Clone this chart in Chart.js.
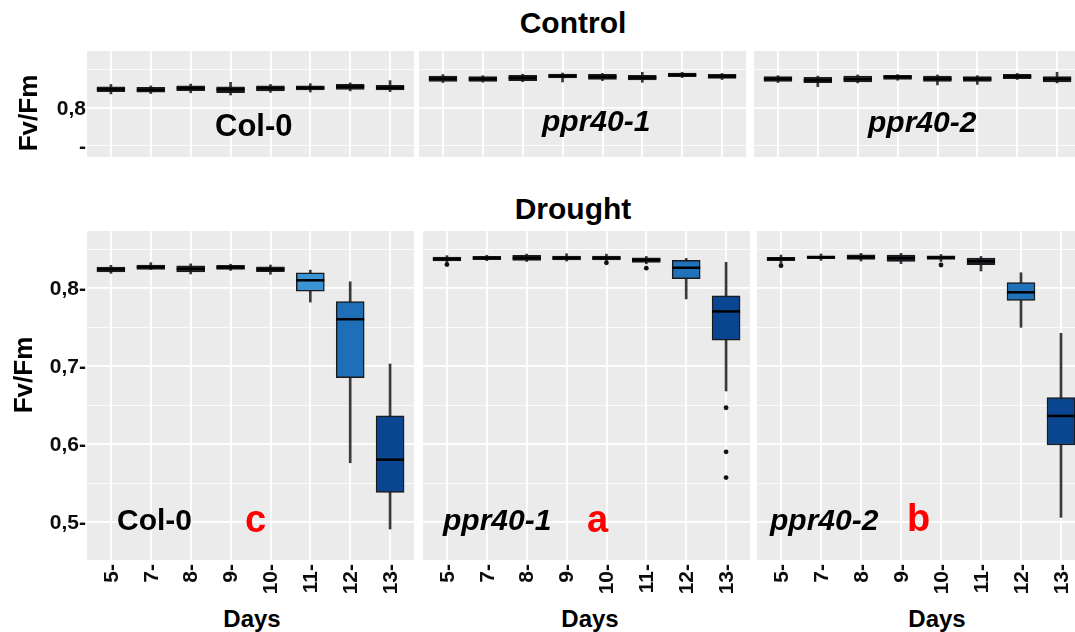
<!DOCTYPE html>
<html>
<head>
<meta charset="utf-8">
<script src="https://cdn.jsdelivr.net/npm/chart.js@4.4.1/dist/chart.umd.min.js"></script>
<style>
body { margin:0; width:1075px; height:632px; overflow:hidden; background:#fff; position:relative;
       font-family:'Liberation Sans', Arial, sans-serif; }
canvas { position:absolute; }
.t { position:absolute; line-height:0; white-space:nowrap; font-weight:bold; color:#000; }
.rot { position:absolute; line-height:1; white-space:nowrap; font-weight:bold; color:#000;
       transform:translate(-50%,-50%) rotate(-90deg); }
</style>
</head>
<body>
<canvas id="cCol0"></canvas>
<canvas id="cPpr1"></canvas>
<canvas id="cPpr2"></canvas>
<canvas id="dCol0"></canvas>
<canvas id="dPpr1"></canvas>
<canvas id="dPpr2"></canvas>
<script>
// Fv/Fm boxplots, days of treatment
const days = ['5', '7', '8', '9', '10', '11', '12', '13'];

// per day: [lower whisker, q1, median, q3, upper whisker]
const controlCol0 = [
    [0.8185, 0.8215, 0.8247, 0.8280, 0.8310],
    [0.8190, 0.8207, 0.8237, 0.8272, 0.8290],
    [0.8200, 0.8228, 0.8260, 0.8293, 0.8315],
    [0.8171, 0.8201, 0.8245, 0.8280, 0.8338],
    [0.8205, 0.8224, 0.8260, 0.8293, 0.8310],
    [0.8210, 0.8237, 0.8265, 0.8293, 0.8320],
    [0.8225, 0.8246, 0.8280, 0.8311, 0.8330],
    [0.8215, 0.8237, 0.8267, 0.8298, 0.8360]
];
const controlPpr1 = [
    [0.8335, 0.8351, 0.8386, 0.8421, 0.8440],
    [0.8340, 0.8351, 0.8382, 0.8412, 0.8425],
    [0.8345, 0.8360, 0.8395, 0.8430, 0.8445],
    [0.8342, 0.8395, 0.8420, 0.8447, 0.8460],
    [0.8360, 0.8377, 0.8410, 0.8443, 0.8455],
    [0.8338, 0.8368, 0.8400, 0.8430, 0.8470],
    [0.8400, 0.8412, 0.8435, 0.8460, 0.8470],
    [0.8375, 0.8390, 0.8415, 0.8443, 0.8455]
];
const controlPpr2 = [
    [0.8335, 0.8351, 0.8382, 0.8412, 0.8425],
    [0.8280, 0.8333, 0.8365, 0.8404, 0.8420],
    [0.8330, 0.8342, 0.8380, 0.8421, 0.8435],
    [0.8365, 0.8377, 0.8408, 0.8430, 0.8440],
    [0.8303, 0.8351, 0.8385, 0.8421, 0.8435],
    [0.8310, 0.8351, 0.8382, 0.8412, 0.8425],
    [0.8375, 0.8386, 0.8415, 0.8443, 0.8455],
    [0.8330, 0.8342, 0.8380, 0.8412, 0.8470]
];
const droughtCol0 = [
    [0.8188, 0.8205, 0.8240, 0.8269, 0.8291],
    [0.8235, 0.8240, 0.8268, 0.8295, 0.8325],
    [0.8180, 0.8205, 0.8246, 0.8286, 0.8310],
    [0.8225, 0.8240, 0.8265, 0.8290, 0.8305],
    [0.8176, 0.8209, 0.8240, 0.8273, 0.8295],
    [0.7820, 0.7960, 0.8099, 0.8196, 0.8230],
    [0.5760, 0.6850, 0.7600, 0.7825, 0.8080],
    [0.4910, 0.5380, 0.5800, 0.6360, 0.7026]
];
const droughtPpr1 = [
    [0.8320, 0.8346, 0.8372, 0.8397, 0.8415],
    [0.8350, 0.8363, 0.8385, 0.8405, 0.8420],
    [0.8340, 0.8354, 0.8385, 0.8418, 0.8435],
    [0.8345, 0.8360, 0.8385, 0.8410, 0.8440],
    [0.8345, 0.8360, 0.8385, 0.8410, 0.8435],
    [0.8310, 0.8328, 0.8360, 0.8388, 0.8405],
    [0.7860, 0.8120, 0.8260, 0.8355, 0.8380],
    [0.6680, 0.7330, 0.7700, 0.7900, 0.8330]
];
const droughtPpr2 = [
    [0.8315, 0.8350, 0.8375, 0.8393, 0.8423],
    [0.8355, 0.8376, 0.8395, 0.8413, 0.8436],
    [0.8346, 0.8368, 0.8395, 0.8427, 0.8445],
    [0.8312, 0.8342, 0.8385, 0.8423, 0.8445],
    [0.8340, 0.8368, 0.8390, 0.8413, 0.8430],
    [0.8218, 0.8299, 0.8345, 0.8385, 0.8405],
    [0.7496, 0.7840, 0.7945, 0.8070, 0.8196],
    [0.5060, 0.5987, 0.6360, 0.6594, 0.7420]
];

// outliers: [day index, value]
const droughtPpr1Out = [[0, 0.8300], [4, 0.8323], [5, 0.8255], [7, 0.6465], [7, 0.5900], [7, 0.5570]];
const droughtPpr2Out = [[0, 0.8286], [4, 0.8295]];

// y ticks
const droughtTicks = [0.50, 0.55, 0.60, 0.65, 0.70, 0.75, 0.80, 0.85];
const droughtTickLabels = ['0,5-', '', '0,6-', '', '0,7-', '', '0,8-', ''];
const controlTicks = [0.75, 0.80, 0.85];
const controlTickLabels = ['-', '0,8', ''];

// box fills by day
const dark = '#1b1f26';
const fillsControl = [dark, dark, dark, dark, dark, dark, dark, dark];
const fillsCol0 = [dark, dark, dark, dark, dark, '#3d94d5', '#1f6fb8', '#0a4592'];
const fillsPpr = [dark, dark, dark, dark, dark, dark, '#2072ba', '#0a4592'];

Chart.defaults.animation = false;
Chart.defaults.responsive = false;
Chart.defaults.events = [];
Chart.defaults.plugins.legend.display = false;
Chart.defaults.plugins.tooltip.enabled = false;
Chart.defaults.font.family = "'Liberation Sans', Arial, sans-serif";

const panelBg = {
    id: 'panelBg',
    beforeDraw(chart) {
        const a = chart.chartArea, c = chart.ctx;
        c.save();
        c.fillStyle = '#EBEBEB';
        c.fillRect(a.left, a.top, a.right - a.left, a.bottom - a.top);
        c.restore();
    }
};

// tick labels drawn at the scales' own tick pixels (keeps label size out of the layout)
const tickText = {
    id: 'tickText',
    afterDraw(chart, args, opts) {
        const c = chart.ctx, a = chart.chartArea;
        const xs = chart.scales.x, ys = chart.scales.y;
        c.save();
        c.fillStyle = '#0d0d0d';
        c.font = "bold 21px 'Liberation Sans', Arial, sans-serif";
        if (opts.yLabels) {
            c.textAlign = 'right';
            c.textBaseline = 'middle';
            ys.ticks.forEach((t, i) => {
                c.fillText(opts.yLabels[i], a.left - 1, ys.getPixelForValue(t.value) + 1);
            });
        }
        if (opts.xLabels) {
            xs.ticks.forEach((t, i) => {
                c.save();
                c.translate(xs.getPixelForValue(t.value) + 1, a.bottom + 4);
                c.rotate(-Math.PI / 2);
                c.textAlign = 'right';
                c.textBaseline = 'middle';
                c.fillText(opts.xLabels[i], 0, 0);
                c.restore();
            });
        }
        c.restore();
    }
};

function boxPanel(id, box, stats, outliers, fills, yr) {
    const canvas = document.getElementById(id);
    canvas.width = box.w;
    canvas.height = box.h;
    canvas.style.left = box.x + 'px';
    canvas.style.top = box.y + 'px';

    new Chart(canvas, {
        type: 'bar',
        data: {
            datasets: [
                { type: 'line', showLine: false, order: 0,
                  data: stats.map((s, i) => ({ x: i, y: s[2] })),
                  pointStyle: 'line', pointRadius: 14, pointBorderWidth: 2.5, pointBorderColor: '#000' },
                { type: 'line', showLine: false, order: 1,
                  data: outliers.map(o => ({ x: o[0], y: o[1] })),
                  pointStyle: 'circle', pointRadius: 2.4, pointBorderWidth: 0, pointBackgroundColor: '#111' },
                { order: 2, grouped: false, barThickness: 28,
                  data: stats.map((s, i) => ({ x: i, y: [s[1], s[3]] })),
                  backgroundColor: fills, borderColor: '#1a1a1a', borderWidth: 1.5, borderSkipped: false },
                { order: 3, grouped: false, barThickness: 2,
                  data: stats.map((s, i) => ({ x: i, y: [s[0], s[4]] })),
                  backgroundColor: '#3a3a3a', borderWidth: 0 }
            ]
        },
        options: {
            layout: { padding: 0, autoPadding: false },
            scales: {
                x: {
                    type: 'linear', min: -0.6, max: 7.6, bounds: 'data', offset: false,
                    afterBuildTicks: axis => { axis.ticks = days.map((d, i) => ({ value: i })); },
                    afterFit: axis => { axis.height = box.xh; },
                    border: { display: false },
                    grid: { color: '#fff', lineWidth: 1.8, drawTicks: false, offset: false },
                    ticks: { display: false }
                },
                y: {
                    min: yr.min, max: yr.max, bounds: 'data',
                    afterBuildTicks: axis => { axis.ticks = yr.ticks.map(v => ({ value: v })); },
                    afterFit: axis => { axis.width = box.yw; },
                    border: { display: false },
                    grid: {
                        color: '#fff', drawTicks: false,
                        lineWidth: c => (Math.round(c.tick.value * 100) % 10 === 0) ? 1.8 : 0.8
                    },
                    ticks: { display: false }
                }
            },
            plugins: {
                tickText: {
                    yLabels: box.yw > 0 ? yr.labels : null,
                    xLabels: box.xh > 0 ? days.map(d => d + '-') : null
                }
            }
        },
        plugins: [panelBg, tickText]
    });
}

const ctlRange = { min: 0.7355, max: 0.875, ticks: controlTicks, labels: controlTickLabels };
const drtRange = { min: 0.4513, max: 0.8731, ticks: droughtTicks, labels: droughtTickLabels };

boxPanel('cCol0', { x: 0,   y: 51, w: 414, h: 106, yw: 87, xh: 0 }, controlCol0, [], fillsControl, ctlRange);
boxPanel('cPpr1', { x: 419, y: 51, w: 327, h: 106, yw: 0,  xh: 0 }, controlPpr1, [], fillsControl, ctlRange);
boxPanel('cPpr2', { x: 754, y: 51, w: 327, h: 106, yw: 0,  xh: 0 }, controlPpr2, [], fillsControl, ctlRange);
boxPanel('dCol0', { x: 0,   y: 231, w: 414, h: 369, yw: 87, xh: 40 }, droughtCol0, [], fillsCol0, drtRange);
boxPanel('dPpr1', { x: 423, y: 231, w: 327, h: 369, yw: 0,  xh: 40 }, droughtPpr1, droughtPpr1Out, fillsPpr, drtRange);
boxPanel('dPpr2', { x: 757, y: 231, w: 328, h: 369, yw: 0,  xh: 40 }, droughtPpr2, droughtPpr2Out, fillsPpr, drtRange);

// text: baseline placement with line-height 0 (baseline = top + 0.3465em)
function addText(txt, x, base, size, opt) {
    opt = opt || {};
    const el = document.createElement('div');
    el.className = 't';
    el.textContent = txt;
    el.style.fontSize = size + 'px';
    el.style.top = (base - 0.3465 * size) + 'px';
    el.style.left = x + 'px';
    if (opt.center) el.style.transform = 'translateX(-50%)';
    if (opt.italic) el.style.fontStyle = 'italic';
    if (opt.color) el.style.color = opt.color;
    document.body.appendChild(el);
}
function addRotated(txt, cx, cy, size) {
    const el = document.createElement('div');
    el.className = 'rot';
    el.textContent = txt;
    el.style.fontSize = size + 'px';
    el.style.left = cx + 'px';
    el.style.top = cy + 'px';
    document.body.appendChild(el);
}

addText('Control', 573, 33, 30, { center: true });
addText('Drought', 573, 219, 30, { center: true });
addRotated('Fv/Fm', 28, 113, 26);
addRotated('Fv/Fm', 23, 375, 26);
addText('Days', 252, 627, 24, { center: true });
addText('Days', 590, 627, 24, { center: true });
addText('Days', 937, 627, 24, { center: true });

addText('Col-0', 215, 137, 31);
addText('ppr40-1', 542, 131, 30, { italic: true });
addText('ppr40-2', 868, 132, 30, { italic: true });

addText('Col-0', 117, 530, 30);
addText('c', 245, 532, 38, { color: '#ff0000' });
addText('ppr40-1', 443, 530, 30, { italic: true });
addText('a', 587, 532, 38, { color: '#ff0000' });
addText('ppr40-2', 770, 530, 30, { italic: true });
addText('b', 907, 531, 38, { color: '#ff0000' });
</script>
</body>
</html>
